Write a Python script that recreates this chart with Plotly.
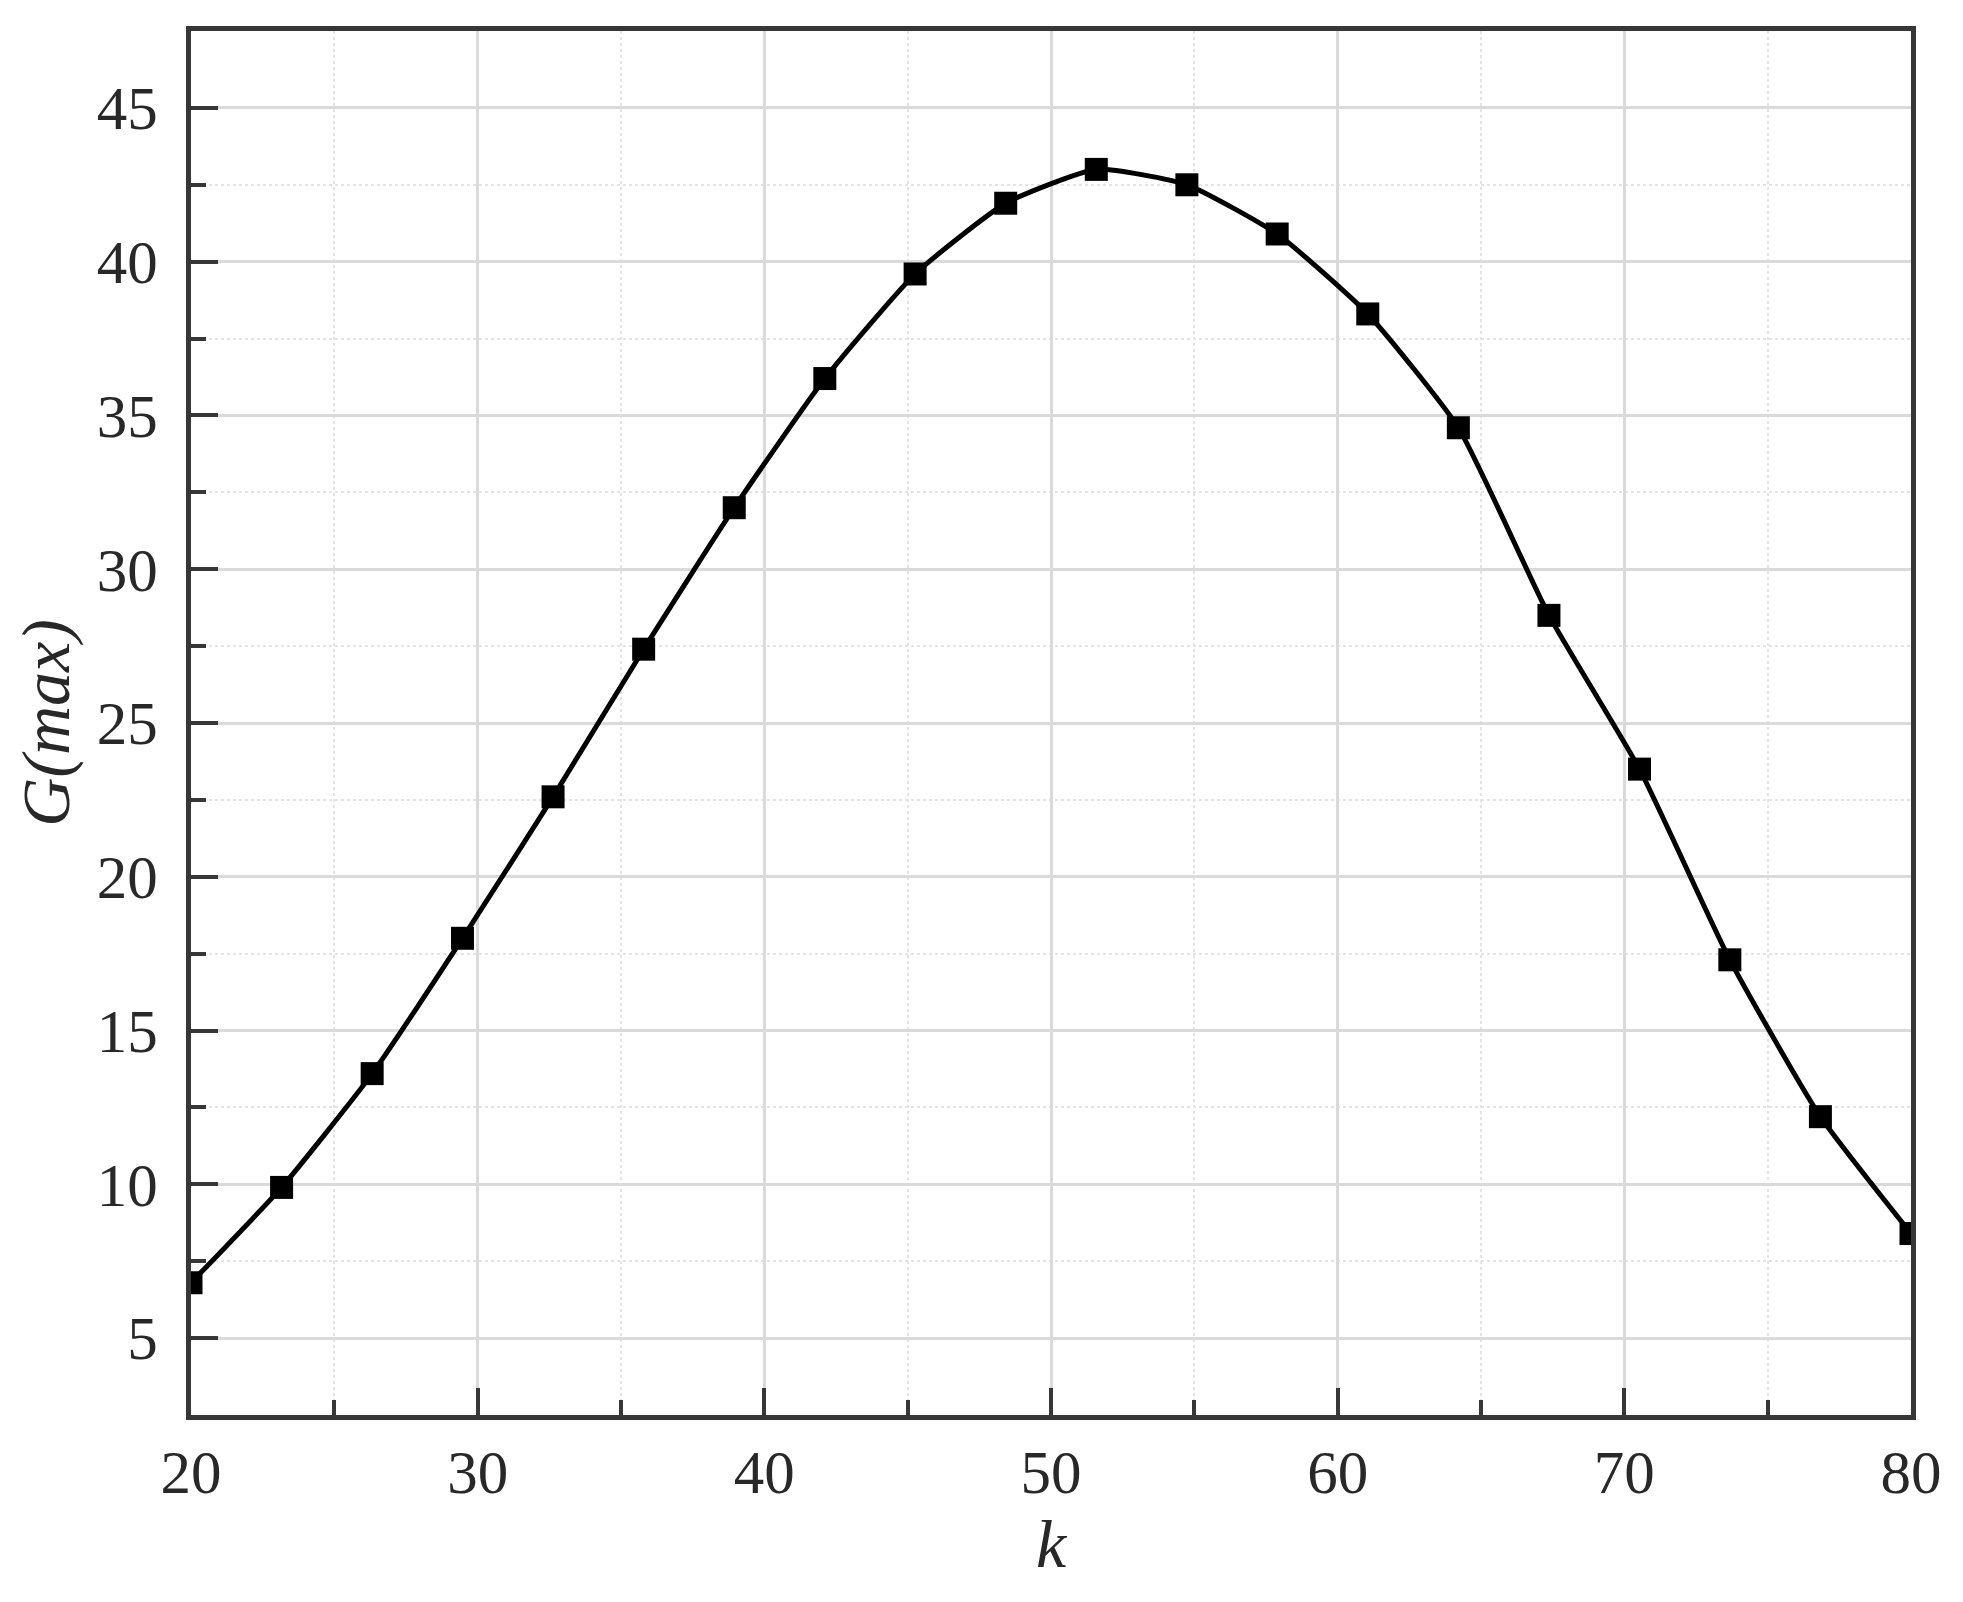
import plotly.graph_objects as go

# k values (20 evenly spread points) and G(max)
K = [20.0, 23.16, 26.32, 29.47, 32.63, 35.79, 38.95, 42.11, 45.26, 48.42,
     51.58, 54.74, 57.89, 61.05, 64.21, 67.37, 70.53, 73.68, 76.84, 80.0]
G_MAX = [6.8, 9.9, 13.6, 18.0, 22.6, 27.4, 32.0, 36.2, 39.6, 41.9,
         43.0, 42.5, 40.9, 38.3, 34.6, 28.5, 23.5, 17.3, 12.2, 8.4]

X_TICKS = [20, 30, 40, 50, 60, 70, 80]
Y_TICKS = [5, 10, 15, 20, 25, 30, 35, 40, 45]

AXIS_COLOR = "rgb(55, 55, 55)"
GRID_COLOR = "rgb(218, 218, 218)"
MINOR_GRID = "rgb(228, 228, 228)"
FONT = "Liberation Serif"

fig = go.Figure()
fig.add_trace(go.Scatter(
    x=K, y=G_MAX, mode="lines+markers",
    line=dict(color="black", width=5, shape="spline", smoothing=0.5),
    marker=dict(symbol="square", size=23, color="black"),
    showlegend=False,
))


def _axis(ticks, rng, title, standoff, label_gap, minor_dtick):
    return dict(
        range=rng, tickmode="array", tickvals=ticks,
        ticktext=[str(t) for t in ticks],
        showline=True, linewidth=5, linecolor=AXIS_COLOR, mirror=True,
        ticks="inside", ticklen=27, tickwidth=4, tickcolor=AXIS_COLOR,
        ticklabelstandoff=label_gap,
        tickfont=dict(family=FONT, size=61, color="rgb(40, 40, 40)"),
        showgrid=True, gridcolor=GRID_COLOR, gridwidth=3,
        zeroline=False,
        minor=dict(dtick=minor_dtick, tick0=ticks[0] - minor_dtick,
                   ticks="inside", ticklen=15, tickwidth=4,
                   tickcolor=AXIS_COLOR, showgrid=True,
                   gridcolor=MINOR_GRID, gridwidth=2, griddash="dot"),
        title=dict(text=title, standoff=standoff,
                   font=dict(family=FONT, size=68, color="rgb(40, 40, 40)")),
    )


fig.update_layout(
    # the page adds a small body margin, so the figure is trimmed by it
    width=1958, height=1597,
    paper_bgcolor="white", plot_bgcolor="white",
    margin=dict(l=183, r=55, t=23, b=190),
    xaxis=_axis(X_TICKS, [20, 80], "<i>k</i>", 10, 0, 5),
    yaxis=_axis(Y_TICKS, [2.5, 47.5], "<i>G(max)</i>", 22, 16, 2.5),
)

fig.write_html("out.html")
